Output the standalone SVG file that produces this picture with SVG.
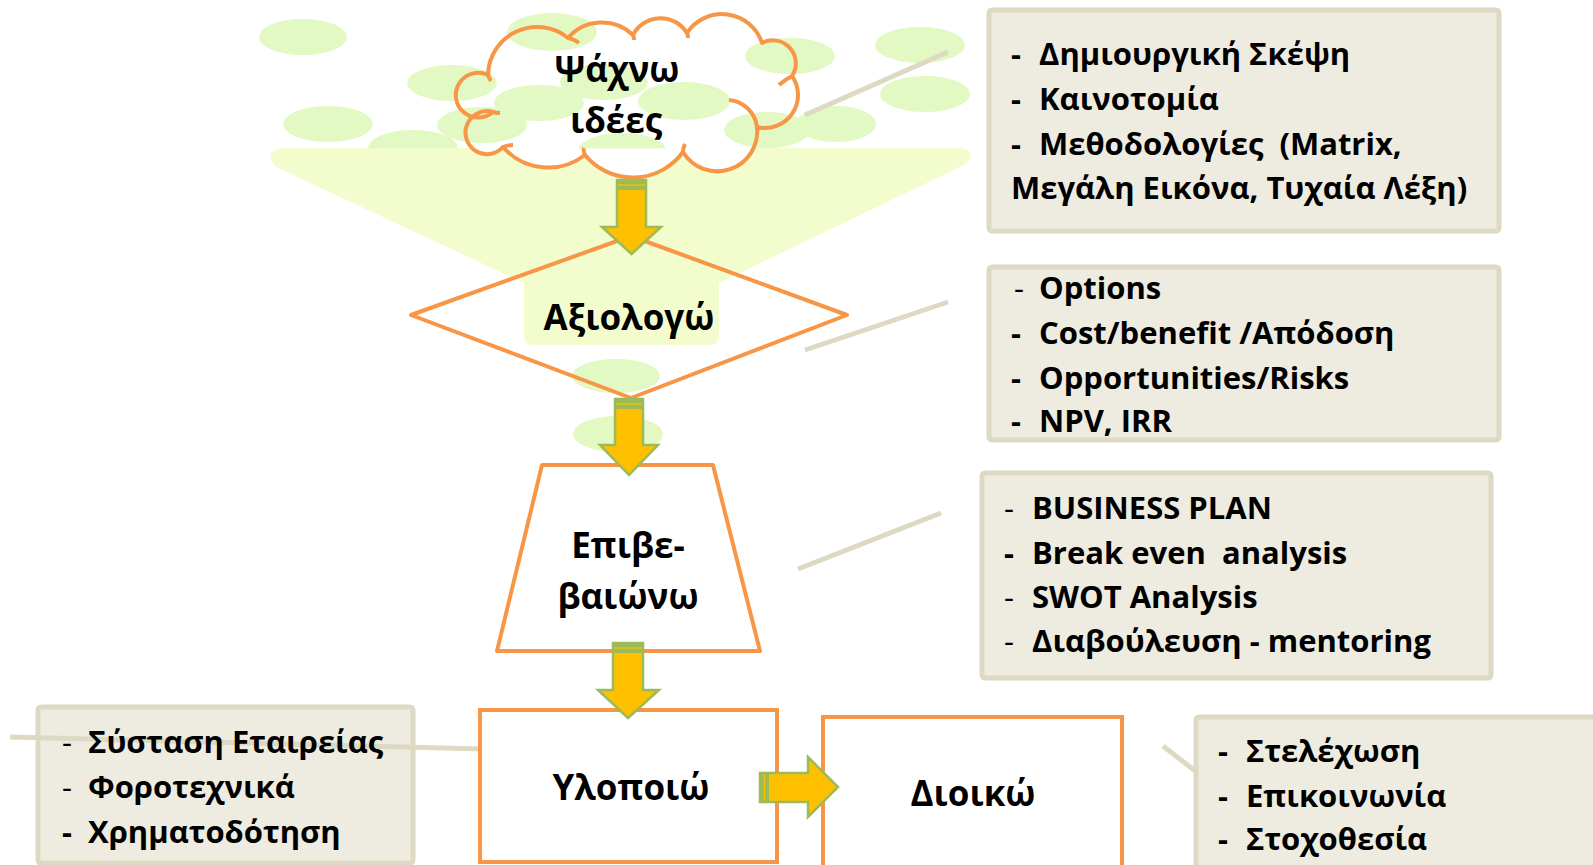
<svg xmlns="http://www.w3.org/2000/svg" width="1593" height="865" viewBox="0 0 1593 865">
<defs>
<style>
.bub{fill:#e3f9c3}
.funnel{fill:#f2fccc}
.shape{fill:none;stroke:#f79646;stroke-width:4;stroke-linejoin:round}
.node{fill:#ffffff;stroke:#f79646;stroke-width:4}
.note{fill:#eeece1;stroke:#ddd9c3;stroke-width:5}
.call{stroke:#ddd9c3;stroke-width:5;fill:none}
.arr{fill:#ffc000;stroke:#9bbb59;stroke-width:2.5;stroke-linejoin:miter}
.band{fill:#9bbb59}
.bandl{stroke:#ffc000;stroke-width:1.2}
.lbl{font-family:"Open Sans","Noto Sans",sans-serif;font-weight:700;font-size:35px;fill:#000;text-anchor:middle}
.t{font-family:"Open Sans","Noto Sans",sans-serif;font-weight:700;font-size:31px;fill:#000;white-space:pre}
.d{font-weight:400}
</style>
<clipPath id="topclip"><rect x="0" y="0" width="1593" height="148.5"/></clipPath>
</defs>
<rect width="1593" height="865" fill="#ffffff"/>

<!-- background funnel -->
<path class="funnel" d="M282,148 H960 Q978,150 966,164 L719,283 V336 Q719,345 709,345 H534 Q524,345 524,336 V283 L276,167 Q262,152 282,148 Z"/>

<!-- cloud white fill -->
<path fill="#ffffff" d="M488,75 A49,49 0 0 1 568,38 A45,45 0 0 1 633,35 A31,31 0 0 1 687,33 A42,42 0 0 1 762,43 A23,23 0 0 1 792,76 A33,33 0 0 1 757,127 A40,40 0 0 1 683,152 A62,62 0 0 1 585,155 A60,60 0 0 1 503,147 A21.5,21.5 0 1 1 493,112 A22.4,22.4 0 1 1 488,75 Z"/>

<!-- background bubbles -->
<g id="bubbles" clip-path="url(#topclip)">
<ellipse class="bub" cx="303" cy="37" rx="44" ry="18"/>
<ellipse class="bub" cx="552" cy="32" rx="45" ry="19"/>
<ellipse class="bub" cx="452" cy="83" rx="45" ry="18"/>
<ellipse class="bub" cx="328" cy="124" rx="45" ry="18"/>
<ellipse class="bub" cx="413" cy="148" rx="45" ry="18"/>
<ellipse class="bub" cx="482" cy="125" rx="45" ry="18"/>
<ellipse class="bub" cx="539" cy="103" rx="45" ry="18"/>
<ellipse class="bub" cx="604" cy="82" rx="44" ry="18"/>
<ellipse class="bub" cx="684" cy="101" rx="46" ry="19"/>
<ellipse class="bub" cx="622" cy="151" rx="44" ry="18"/>
<ellipse class="bub" cx="767" cy="130" rx="43" ry="18"/>
<ellipse class="bub" cx="836" cy="124" rx="40" ry="18"/>
<ellipse class="bub" cx="790" cy="56" rx="45" ry="18"/>
<ellipse class="bub" cx="920" cy="45" rx="45" ry="18"/>
<ellipse class="bub" cx="925" cy="94" rx="45" ry="18"/>
</g>
<ellipse class="bub" cx="616" cy="376" rx="44" ry="17"/>
<ellipse class="bub" cx="618" cy="434" rx="45" ry="18"/>

<!-- connectors -->
<g id="connectors">
<line class="call" x1="805" y1="115" x2="948" y2="52"/>
<line class="call" x1="805" y1="350" x2="948" y2="302"/>
<line class="call" x1="798" y1="569" x2="941" y2="513"/>
<line class="call" x1="1163" y1="746" x2="1203" y2="777"/>
</g>

<!-- nodes -->
<g id="node-search">
<path class="shape" d="M488,75 A49,49 0 0 1 568,38 A45,45 0 0 1 633,35 A31,31 0 0 1 687,33 A42,42 0 0 1 762,43 A23,23 0 0 1 792,76 A33,33 0 0 1 757,127 A40,40 0 0 1 683,152 A62,62 0 0 1 585,155 A60,60 0 0 1 503,147 A21.5,21.5 0 1 1 493,112 A22.4,22.4 0 1 1 488,75 Z"/>
<path class="shape" d="M568,38 Q574,39 579,43 M633,35 Q634,37 634,40 M687,33 Q688,35 688,38 M792,76 Q786,79 779,85 M729,100 A31,31 0 0 1 757,127 M683,152 Q683,148 685,144 M585,155 Q583,151 584,148 M503,147 Q508,145 513,145 M493,112 Q496,113 500,113 M488,75 Q489,78 491,81"/>
<text class="lbl" x="617" y="82">Ψάχνω</text>
<text class="lbl" x="616" y="133">ιδέες</text>
</g>

<g id="node-evaluate">
<polygon class="shape" points="411,315 631,236 847,315 631,398"/>
<text class="lbl" x="629" y="330">Αξιολογώ</text>
</g>

<g id="node-confirm">
<polygon class="shape" points="542,465 713,465 760,651 497,651"/>
<text class="lbl" x="628" y="558">Επιβε-</text>
<text class="lbl" x="628" y="609">βαιώνω</text>
</g>

<g id="note-implement">
<rect class="note" x="38" y="707" width="375" height="156" rx="3"/>
<line class="call" x1="10" y1="737" x2="482" y2="749"/>
<text class="t" x="62" y="753"><tspan class="d">-</tspan></text><text class="t" x="88" y="753">Σύσταση Εταιρείας</text>
<text class="t" x="62" y="798"><tspan class="d">-</tspan></text><text class="t" x="88" y="798">Φοροτεχνικά</text>
<text class="t" x="62" y="843">-</text><text class="t" x="88" y="843">Χρηματοδότηση</text>
</g>

<g id="node-implement">
<rect class="node" x="480" y="710" width="297" height="152"/>
<text class="lbl" x="631" y="800">Υλοποιώ</text>
</g>

<g id="node-manage">
<rect class="node" x="823" y="717" width="299" height="170"/>
<text class="lbl" x="973" y="806">Διοικώ</text>
</g>

<g id="note-search">
<rect class="note" x="989" y="10" width="510" height="221" rx="3"/>
<text class="t" x="1011" y="65">-</text><text class="t" x="1039" y="65">Δημιουργική Σκέψη</text>
<text class="t" x="1011" y="110">-</text><text class="t" x="1039" y="110">Καινοτομία</text>
<text class="t" x="1011" y="155">-</text><text class="t" x="1039" y="155">Μεθοδολογίες  (Matrix,</text>
<text class="t" x="1011" y="199">Μεγάλη Εικόνα, Τυχαία Λέξη)</text>
</g>

<g id="note-evaluate">
<rect class="note" x="989" y="267" width="510" height="173" rx="3"/>
<text class="t" x="1014" y="299"><tspan class="d">-</tspan></text><text class="t" x="1039" y="299">Options</text>
<text class="t" x="1011" y="344">-</text><text class="t" x="1039" y="344">Cost/benefit /Απόδοση</text>
<text class="t" x="1011" y="389">-</text><text class="t" x="1039" y="389">Opportunities/Risks</text>
<text class="t" x="1011" y="432">-</text><text class="t" x="1039" y="432">NPV, IRR</text>
</g>

<g id="note-confirm">
<rect class="note" x="982" y="473" width="509" height="205" rx="3"/>
<text class="t" x="1004" y="519"><tspan class="d">-</tspan></text><text class="t" x="1032" y="519">BUSINESS PLAN</text>
<text class="t" x="1004" y="564">-</text><text class="t" x="1032" y="564">Break even  analysis</text>
<text class="t" x="1004" y="608"><tspan class="d">-</tspan></text><text class="t" x="1032" y="608">SWOT Analysis</text>
<text class="t" x="1004" y="652"><tspan class="d">-</tspan></text><text class="t" x="1032" y="652">Διαβούλευση - mentoring</text>
</g>

<g id="note-manage">
<rect class="note" x="1196" y="717" width="420" height="170" rx="3"/>
<text class="t" x="1218" y="762">-</text><text class="t" x="1246" y="762">Στελέχωση</text>
<text class="t" x="1218" y="807">-</text><text class="t" x="1246" y="807">Επικοινωνία</text>
<text class="t" x="1218" y="850">-</text><text class="t" x="1246" y="850">Στοχοθεσία</text>
</g>

<!-- flow arrows -->
<g id="arrows">
<path class="arr" d="M617,180 H646 V227 H661 L631.5,254 L602,227 H617 Z"/>
<rect class="band" x="617" y="180" width="29" height="10"/><line class="bandl" x1="618" y1="185" x2="645" y2="185"/>
<path class="arr" d="M615,399 H643 V445 H658 L629,475 L600,445 H615 Z"/>
<rect class="band" x="615" y="399" width="28" height="10"/><line class="bandl" x1="616" y1="404" x2="642" y2="404"/>
<path class="arr" d="M613,643 H643 V690 H659 L628,718 L598,690 H613 Z"/>
<rect class="band" x="613" y="643" width="30" height="10"/><line class="bandl" x1="614" y1="648" x2="642" y2="648"/>
<path class="arr" d="M760,773 H808 V757 L838,787 L808,817 V802 H760 Z"/>
<rect class="band" x="760" y="773" width="9" height="29"/><line class="bandl" x1="764.5" y1="774" x2="764.5" y2="801"/>
</g>
</svg>
